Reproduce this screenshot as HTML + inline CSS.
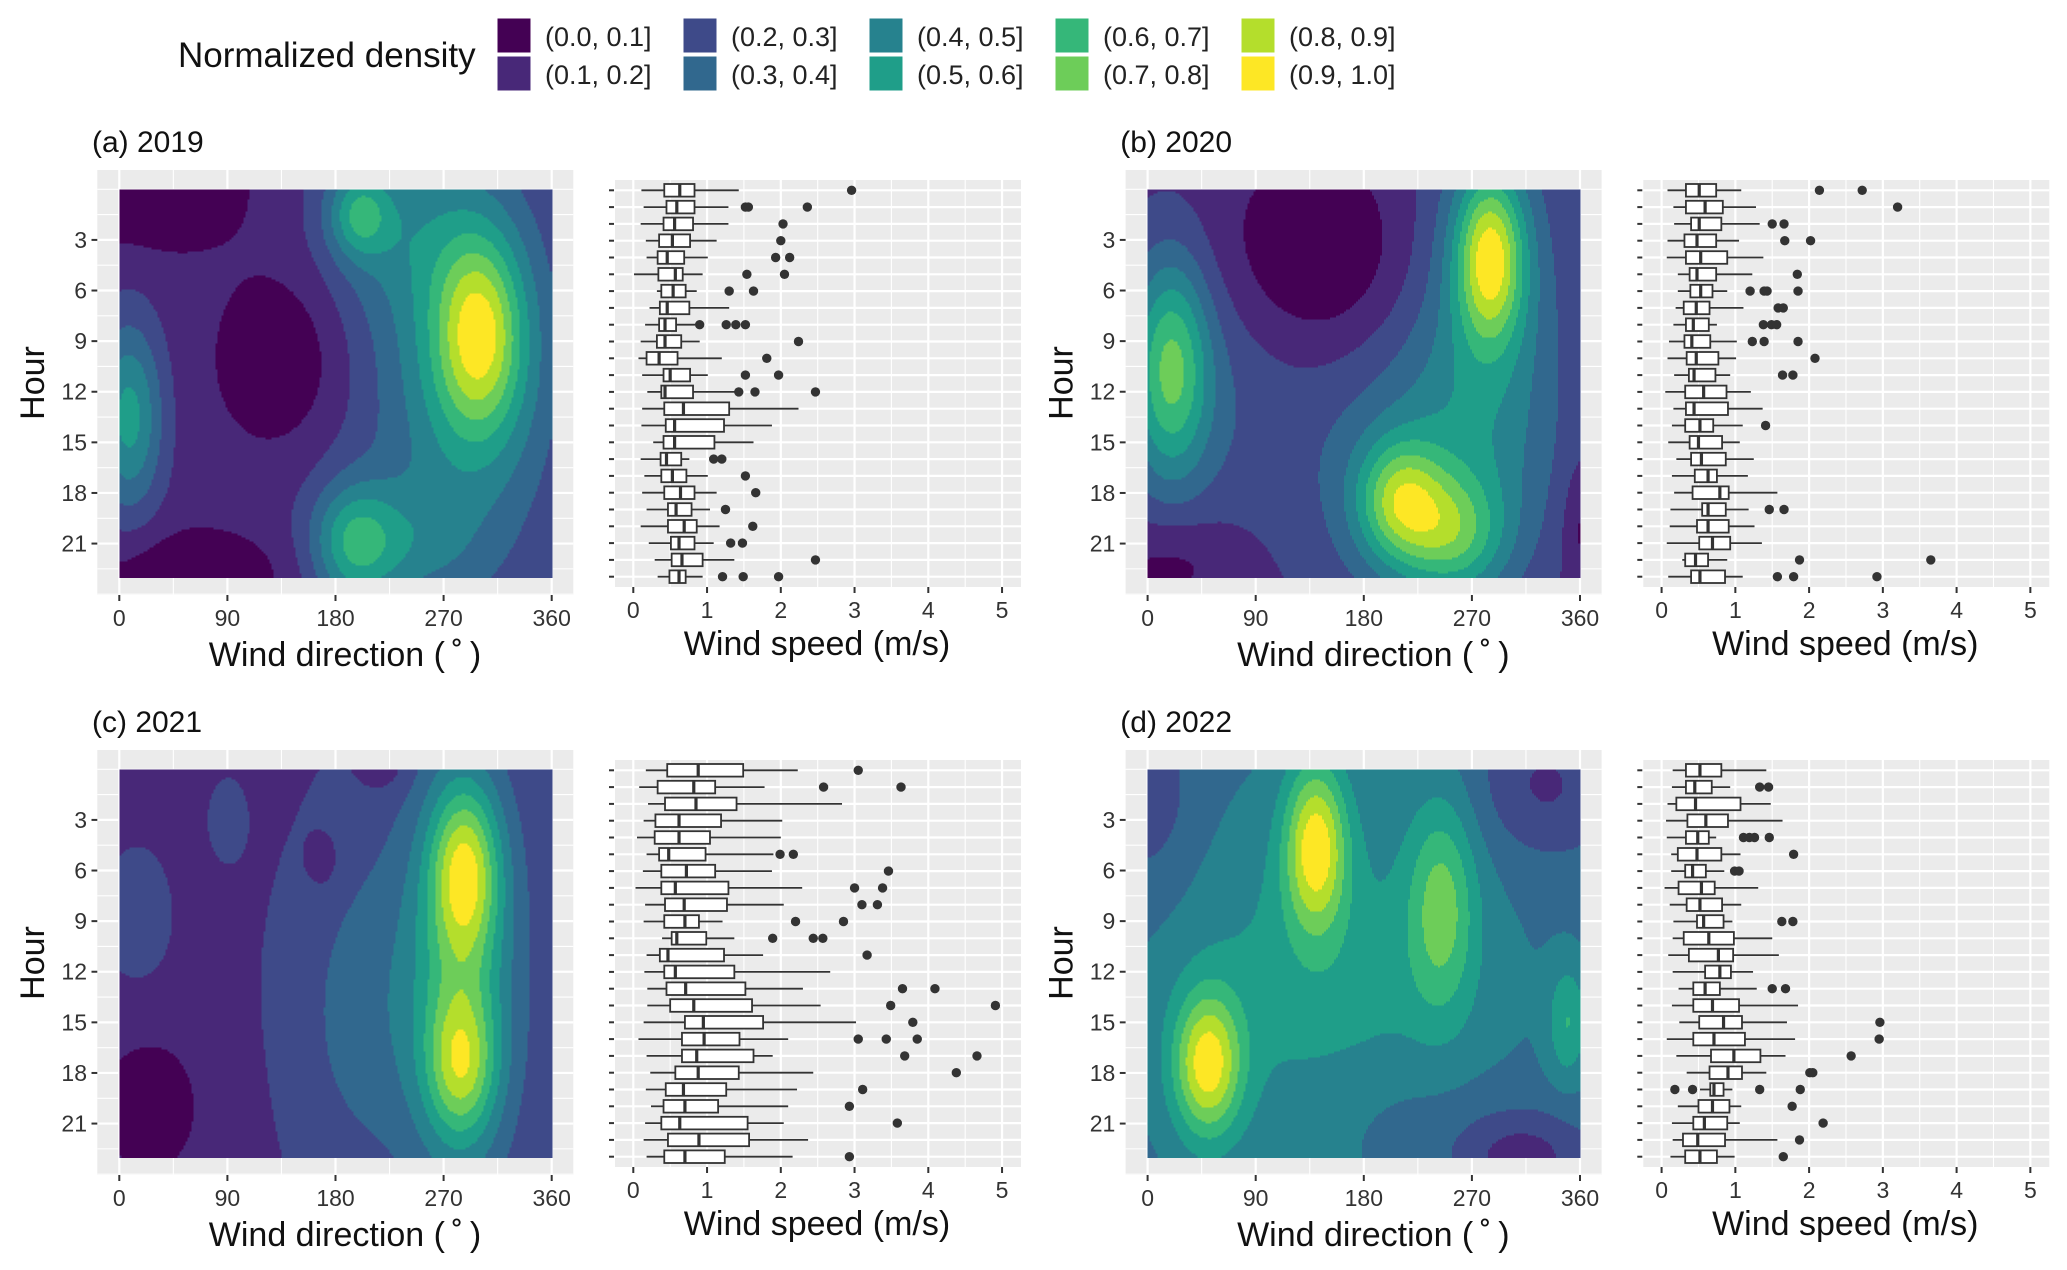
<!DOCTYPE html>
<html><head><meta charset="utf-8">
<style>
body{margin:0;background:#fff;}
svg{display:block;font-family:"Liberation Sans",Arial,sans-serif;}
</style></head>
<body>
<svg id="fig" width="2067" height="1270" viewBox="0 0 2067 1270" xmlns="http://www.w3.org/2000/svg">
<rect x="0" y="0" width="2067" height="1270" fill="#fff"/>
<g id="legend"></g>
</svg>
<script>
// ---------- legend data ----------
const levelLabels=["(0.0, 0.1]","(0.1, 0.2]","(0.2, 0.3]","(0.3, 0.4]","(0.4, 0.5]","(0.5, 0.6]","(0.6, 0.7]","(0.7, 0.8]","(0.8, 0.9]","(0.9, 1.0]"];
const levelColors=["#440154","#482878","#3E4A89","#31688E","#26828E","#1F9E89","#35B779","#6DCD59","#B4DE2C","#FDE725"];
const dirTicks=[0,90,180,270,360];
const hourTicks=[3,6,9,12,15,18,21];
const speedTicks=[0,1,2,3,4,5];

// ---------- density model bumps: [dir, hour, sdDir, sdHour, amplitude] ----------
const a_base=0.18;
const a_bumps=[[300,8.5,25,4,0.6],[295,10,45,7,0.3],[270,12,80,12,0.2],[195,21,25,2.5,0.45],[240,21,40,2.5,0.2],[200,1.5,18,1.8,0.4],[230,2,45,4,0.2],[8,13.5,20,4,0.5],[140,10,40,4,-0.2],[30,0,55,2.5,-0.18],[60,23,60,2,-0.18]];
const b_base=0.16;
const b_bumps=[[285,4,20,3.5,0.6],[285,7,45,8,0.25],[210,18.5,25,2.5,0.45],[255,20.5,30,2.5,0.35],[230,17,70,6,0.25],[20,10.5,22,4.5,0.45],[30,12,60,6,0.15],[140,4,55,4,-0.18],[20,22,40,2,-0.12],[360,20,10,2.5,-0.12]];
const c_base=0.2;
const c_bumps=[[288,6,20,3.5,0.55],[285,17.5,20,3,0.45],[285,12,30,9,0.35],[270,12,70,10,0.15],[15,9,20,3,0.1],[90,3,10,1.5,0.12],[200,15,45,7,0.12],[25,20,40,4,-0.13],[170,5.5,10,1.2,-0.1],[220,0,15,1,-0.1]];
const d_base=0.4;
const d_bumps=[[140,4.5,18,3.5,0.6],[50,17.5,20,3,0.6],[245,8,20,4.5,0.35],[350,15,12,2.5,0.25],[150,13,100,8,0.22],[310,23,40,2,-0.25],[330,1,40,3,-0.2],[0,2,30,4,-0.15],[200,20,60,3,-0.08]];

// ---------- boxplot data (wind speed m/s by hour 0..23) ----------
const a_lo=[.11,.14,.10,.17,.18,.01,.32,.22,.16,.10,.07,.12,.19,.12,.11,.27,.10,.15,.12,.18,.10,.21,.29,.33];
const a_q1=[.42,.45,.41,.35,.33,.34,.38,.36,.35,.32,.18,.41,.38,.42,.44,.41,.37,.38,.42,.47,.47,.51,.52,.49];
const a_med=[.63,.59,.56,.53,.46,.57,.54,.46,.43,.43,.35,.50,.43,.68,.56,.56,.45,.53,.64,.58,.69,.62,.66,.62];
const a_q3=[.83,.83,.81,.77,.69,.67,.71,.76,.58,.65,.60,.77,.81,1.30,1.23,1.10,.65,.72,.83,.79,.86,.83,.94,.71];
const a_hi=[1.43,1.29,1.29,1.13,1.01,.94,.86,1.30,.84,.90,1.20,1.01,1.40,2.24,1.88,1.63,.76,1.01,1.13,1.04,1.17,1.09,1.37,.94];
const a_out=[[2.96],[1.52,1.56,2.36],[2.03],[2.0],[1.93,2.12],[1.54,2.05],[1.30,1.63],[],[.90,1.26,1.39,1.52],[2.24],[1.81],[1.52,1.97],[1.43,1.65,2.47],[],[],[],[1.09,1.20],[1.52],[1.66],[1.25],[1.62],[1.32,1.48],[2.47],[1.21,1.49,1.97]];

const b_lo=[.08,.16,.17,.08,.07,.22,.22,.19,.16,.10,.08,.17,.05,.16,.14,.09,.20,.14,.17,.12,.11,.07,.28,.09];
const b_q1=[.33,.33,.40,.31,.33,.38,.39,.30,.33,.31,.34,.37,.32,.33,.32,.38,.40,.45,.42,.55,.48,.51,.32,.40];
const b_med=[.51,.59,.51,.48,.53,.48,.53,.47,.43,.41,.47,.44,.57,.44,.52,.50,.54,.63,.79,.63,.63,.69,.46,.52];
const b_q3=[.74,.83,.81,.74,.89,.74,.69,.65,.64,.66,.77,.73,.88,.90,.70,.82,.87,.75,.91,.87,.91,.93,.63,.86];
const b_hi=[1.08,1.28,1.33,1.05,1.38,1.23,.89,1.11,.75,1.02,1.01,.93,1.21,1.37,1.10,1.06,1.25,1.17,1.57,1.18,1.26,1.36,.89,1.10];
const b_out=[[2.14,2.72],[3.20],[1.50,1.66],[1.67,2.02],[],[1.84],[1.20,1.39,1.43,1.85],[1.58,1.65],[1.38,1.49,1.56],[1.23,1.39,1.85],[2.08],[1.64,1.78],[],[],[1.41],[],[],[],[],[1.46,1.66],[],[],[1.87,3.65],[1.57,1.79,2.92]];

const c_lo=[.17,.08,.20,.14,.05,.18,.13,.03,.16,.14,.39,.18,.15,.19,.19,.14,.07,.18,.23,.17,.24,.16,.14,.18];
const c_q1=[.46,.33,.43,.30,.29,.35,.38,.38,.43,.42,.52,.36,.42,.45,.50,.70,.66,.66,.57,.44,.41,.38,.47,.42];
const c_med=[.88,.82,.85,.62,.62,.48,.72,.57,.69,.70,.59,.47,.57,.71,.82,.95,.96,.86,.88,.68,.70,.63,.89,.70];
const c_q3=[1.49,1.11,1.40,1.19,1.04,.98,1.11,1.29,1.27,.89,.99,1.23,1.37,1.52,1.61,1.76,1.44,1.63,1.43,1.26,1.15,1.55,1.57,1.24];
const c_hi=[2.23,1.78,2.83,2.02,2.0,1.90,1.88,2.29,2.04,1.21,1.37,1.76,2.67,2.30,2.54,3.02,2.10,1.89,2.44,2.22,2.10,2.04,2.37,2.16];
const c_out=[[3.05],[2.58,3.63],[],[],[],[1.99,2.17],[3.46],[3.0,3.38],[3.10,3.31],[2.20,2.85],[1.89,2.44,2.57],[3.17],[],[3.65,4.09],[3.49,4.91],[3.79],[3.05,3.43,3.85],[3.68,4.66],[4.38],[3.11],[2.93],[3.58],[],[2.93]];

const d_lo=[.15,.14,.08,.06,.07,.13,.13,.04,.11,.16,.15,.09,.15,.23,.14,.24,.07,.20,.34,.52,.22,.14,.15,.12];
const d_q1=[.33,.33,.20,.35,.33,.22,.32,.23,.34,.48,.30,.37,.59,.43,.43,.51,.43,.67,.65,.66,.50,.43,.29,.32];
const d_med=[.52,.45,.46,.60,.49,.48,.42,.54,.52,.57,.64,.77,.79,.59,.69,.84,.71,.98,.90,.71,.69,.58,.49,.52];
const d_q3=[.81,.68,1.07,.90,.64,.81,.60,.72,.82,.84,.98,.97,.94,.79,1.05,1.09,1.13,1.34,1.09,.84,.92,.89,.86,.75];
const d_hi=[1.42,.93,1.48,1.64,.74,1.07,.85,1.31,1.08,.96,1.50,1.59,1.24,1.29,1.85,1.70,1.81,1.68,1.42,.96,1.08,1.06,1.57,.99];
const d_out=[[],[1.33,1.45],[],[],[1.11,1.19,1.26,1.46],[1.79],[.99,1.05],[],[],[1.63,1.78],[],[],[],[1.50,1.68],[],[2.96],[2.95],[2.57],[2.01,2.05],[.18,.42,1.33,1.88],[1.77],[2.19],[1.87],[1.65]];

const NS="http://www.w3.org/2000/svg";
const svg=document.getElementById('fig');
function mk(tag,attrs,parent){const e=document.createElementNS(NS,tag);for(const k in attrs)e.setAttribute(k,attrs[k]);(parent||svg).appendChild(e);return e;}

// ---------- legend ----------
const lg=document.getElementById('legend');
const lt=mk('text',{x:178,y:67,'font-size':35,fill:'#111'},lg);lt.textContent='Normalized density';


for(let i=0;i<10;i++){
  const col=Math.floor(i/2),row=i%2;
  const kx=497+col*186,ky=18+row*38;
  const key=mk('rect',{x:kx,y:ky,width:34,height:35,fill:levelColors[i],stroke:'#fff','stroke-width':1},lg);
  
  
  const t=mk('text',{x:kx+48,y:ky+28,'font-size':27,fill:'#222'},lg);t.textContent=levelLabels[i];
  
  
}

function drawPanel(P){
  const g=mk('g',{});
  
  
  const ox=P.ox,oy=P.oy;
  const xDir=d=>ox+119.3+d*(432.4/360);
  const yHour=h=>oy+189.3+h*16.87;
  const xSpd=v=>ox+633.3+v*73.75;
  const yRow=i=>oy+190.3+i*16.8;

  const tt=mk('text',{x:ox+92,y:oy+152,'font-size':30,fill:'#111'},g);tt.textContent=P.title;
  
  

  // ---- contour panel background + grid ----
  const bg=mk('rect',{x:ox+97.3,y:oy+170,width:476,height:425,fill:'#EBEBEB'},g);
  
  
  for(let h=0;h<=24.01;h+=1.5){
    const major=hourTicks.indexOf(h)>=0;
    mk('line',{x1:ox+97.3,x2:ox+573.3,y1:yHour(h),y2:yHour(h),stroke:'#fff','stroke-width':major?2.2:1.1},g);
  }
  for(let d=0;d<=360;d+=45){
    const major=dirTicks.indexOf(d)>=0;
    mk('line',{x1:xDir(d),x2:xDir(d),y1:oy+170,y2:oy+595,stroke:'#fff','stroke-width':major?2.2:1.1},g);
  }
  // ---- density field ----
  const nx=216,ny=194;
  const vals=[];let mx=-1e9;
  for(let j=0;j<ny;j++){const row=[];
    const h=(j+0.5)/ny*23;
    for(let i=0;i<nx;i++){
      const d=(i+0.5)/nx*360;let v=P.base;
      for(const b of P.bumps){const dd=(d-b[0])/b[2],dh=(h-b[1])/b[3];v+=b[4]*Math.exp(-0.5*(dd*dd+dh*dh));}
      row.push(v);if(v>mx)mx=v;}
    vals.push(row);}
  const cg=mk('g',{'shape-rendering':'crispEdges'},g);
  
  
  const cw=360/nx,ch=23/ny;
  const lvOf=v=>Math.max(0,Math.min(9,Math.ceil(v/mx*10)-1));
  for(let j=0;j<ny;j++){
    let i=0;
    while(i<nx){
      const lv=lvOf(vals[j][i]);
      let k=i+1;
      while(k<nx&&lvOf(vals[j][k])===lv)k++;
      const x0=xDir(i*cw),x1=xDir(k*cw),y0=yHour(j*ch),y1=yHour((j+1)*ch);
      const r=mk('rect',{x:x0.toFixed(2),y:y0.toFixed(2),width:(x1-x0+0.6).toFixed(2),height:(y1-y0+0.6).toFixed(2),fill:levelColors[lv]},cg);
      
      
      i=k;
    }
  }
  // axes ticks/labels
  for(const h of hourTicks){
    mk('line',{x1:ox+91.5,x2:ox+97.3,y1:yHour(h),y2:yHour(h),stroke:'#333','stroke-width':2},g);
    const t=mk('text',{x:ox+87,y:yHour(h)+8,'font-size':23,'text-anchor':'end',fill:'#333'},g);t.textContent=h;
    
    
  }
  for(const d of dirTicks){
    mk('line',{x1:xDir(d),x2:xDir(d),y1:oy+595,y2:oy+601,stroke:'#333','stroke-width':2},g);
    const t=mk('text',{x:xDir(d),y:oy+626,'font-size':23,'text-anchor':'middle',fill:'#333'},g);t.textContent=d;
    
    
  }
  const xt=mk('text',{x:ox+345,y:oy+666,'font-size':34,'text-anchor':'middle',fill:'#111'},g);xt.textContent='Wind direction (\u2009\u02DA\u2009)';
  
  
  const yt=mk('text',{x:0,y:0,'font-size':34,'text-anchor':'middle',fill:'#111',transform:`translate(${ox+44},${oy+383}) rotate(-90)`},g);yt.textContent='Hour';
  
  

  // ---- boxplot panel ----
  const bb=mk('rect',{x:ox+615,y:oy+180,width:406,height:407,fill:'#EBEBEB'},g);
  
  
  for(let v=0;v<=5;v+=0.5){
    const major=Math.abs(v-Math.round(v))<1e-6;
    mk('line',{x1:xSpd(v),x2:xSpd(v),y1:oy+180,y2:oy+587,stroke:'#fff','stroke-width':major?2.2:1.1},g);
  }
  for(let i=0;i<24;i++){
    mk('line',{x1:ox+615,x2:ox+1021,y1:yRow(i),y2:yRow(i),stroke:'#fff','stroke-width':2.2},g);
    mk('line',{x1:ox+609,x2:ox+614,y1:yRow(i),y2:yRow(i),stroke:'#333','stroke-width':2},g);
  }
  for(let i=0;i<24;i++){
    const y=yRow(i),bh=12.6;
    const bx=mk('g',{},g);
    
    
    mk('line',{x1:xSpd(P.lo[i]),x2:xSpd(P.q1[i]),y1:y,y2:y,stroke:'#333','stroke-width':1.8},bx);
    mk('line',{x1:xSpd(P.q3[i]),x2:xSpd(P.hi[i]),y1:y,y2:y,stroke:'#333','stroke-width':1.8},bx);
    mk('rect',{x:xSpd(P.q1[i]),y:y-bh/2,width:Math.max(1,xSpd(P.q3[i])-xSpd(P.q1[i])),height:bh,fill:'#fff',stroke:'#333','stroke-width':1.8},bx);
    mk('line',{x1:xSpd(P.med[i]),x2:xSpd(P.med[i]),y1:y-bh/2,y2:y+bh/2,stroke:'#333','stroke-width':3.2},bx);
    for(const o of P.out[i]){
      const c=mk('circle',{cx:xSpd(o),cy:y,r:4.7,fill:'#333'},bx);
      
      
    }
  }
  for(const v of speedTicks){
    mk('line',{x1:xSpd(v),x2:xSpd(v),y1:oy+587,y2:oy+593,stroke:'#333','stroke-width':2},g);
    const t=mk('text',{x:xSpd(v),y:oy+618,'font-size':23,'text-anchor':'middle',fill:'#333'},g);t.textContent=v;
    
    
  }
  const st=mk('text',{x:ox+817,y:oy+655,'font-size':34,'text-anchor':'middle',fill:'#111'},g);st.textContent='Wind speed (m/s)';
  
  
}

drawPanel({key:'a',title:'(a) 2019',ox:0,oy:0,base:a_base,bumps:a_bumps,lo:a_lo,q1:a_q1,med:a_med,q3:a_q3,hi:a_hi,out:a_out});
drawPanel({key:'b',title:'(b) 2020',ox:1028.3,oy:0,base:b_base,bumps:b_bumps,lo:b_lo,q1:b_q1,med:b_med,q3:b_q3,hi:b_hi,out:b_out});
drawPanel({key:'c',title:'(c) 2021',ox:0,oy:580,base:c_base,bumps:c_bumps,lo:c_lo,q1:c_q1,med:c_med,q3:c_q3,hi:c_hi,out:c_out});
drawPanel({key:'d',title:'(d) 2022',ox:1028.3,oy:580,base:d_base,bumps:d_bumps,lo:d_lo,q1:d_q1,med:d_med,q3:d_q3,hi:d_hi,out:d_out});
</script>
</body></html>
